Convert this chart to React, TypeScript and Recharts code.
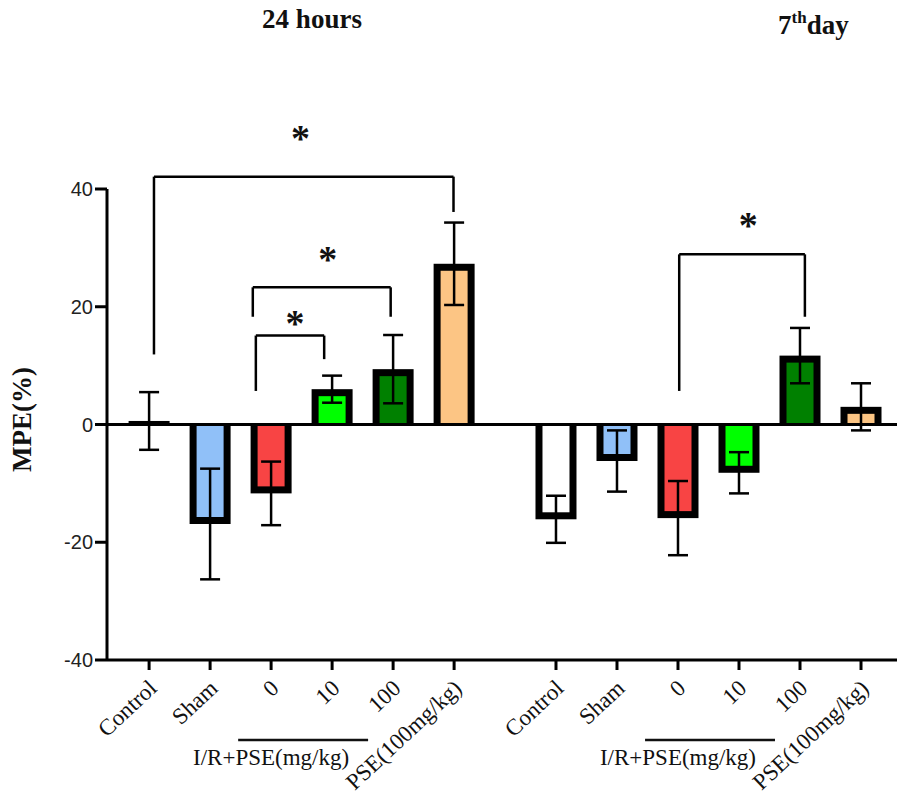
import React from 'react';
import { BarChart, Bar, XAxis, YAxis, ErrorBar, ReferenceLine, ReferenceDot } from 'recharts';

// groups / categories
const categories = ['Control', 'Sham', '0', '10', '100', 'PSE(100mg/kg)'];
const barColors = ['#ffffff', '#90c0f8', '#f84444', '#00ff00', '#008000', '#fcc584'];

// MPE(%) mean and error
const means24h = [0.6, -16.9, -11.7, 6.0, 9.4, 27.3];
const errors24h = [4.9, 9.4, 5.4, 2.3, 5.8, 7.0];
const means7d = [-16.1, -6.2, -15.9, -8.2, 11.7, 3.0];
const errors7d = [4.0, 5.2, 6.3, 3.5, 4.7, 4.0];

const yTicks = [-40, -20, 0, 20, 40];

// second group starts a little further right than the regular step
const GROUP2_START = 6.67;

// significance brackets: left x, right x, left foot, right foot, top (x in axis units)
const brackets = [
  { x1: 0.08, x2: 4.99, yl: 11.9, yr: 36.1, top: 42.1 },
  { x1: 1.7, x2: 3.96, yl: 18.3, yr: 18.3, top: 23.3 },
  { x1: 1.75, x2: 2.87, yl: 5.7, yr: 11.1, top: 15.1 },
  { x1: 8.69, x2: 10.75, yl: 5.7, yr: 18.3, top: 28.9 },
];
const stars = [
  { x: 2.48, y: 49.4 },
  { x: 2.93, y: 28.8 },
  { x: 2.39, y: 18.0 },
  { x: 9.82, y: 34.7 },
];

const data = [
  ...categories.map((c, i) => ({ x: i, label: c, mean: means24h[i], err: errors24h[i], color: barColors[i] })),
  ...categories.map((c, i) => ({ x: GROUP2_START + i, label: c, mean: means7d[i], err: errors7d[i], color: barColors[i] })),
];
const xTicks = data.map((d) => d.x);
const labelAt = (v: number) => data.find((d) => Math.abs(d.x - v) < 0.01)?.label ?? '';

const BORDER = 7;
const serif = "'Liberation Serif', 'Times New Roman', serif";

function FramedBar(props: any) {
  const { x, y, width, height, payload } = props;
  if (width == null || height == null) return null;
  const top = Math.min(y, y + height);
  const h = Math.max(Math.abs(height), 2);
  const up = payload.mean >= 0;
  const innerH = h - BORDER - 1;
  return (
    <g>
      <rect x={x} y={top} width={width} height={h} fill="#000" />
      {innerH > 0 && (
        <rect
          x={x + BORDER}
          y={up ? top + BORDER : top + 1}
          width={width - 2 * BORDER}
          height={innerH}
          fill={payload.color}
        />
      )}
    </g>
  );
}

function XTick(props: any) {
  const { x, y, payload } = props;
  return (
    <text
      transform={`translate(${x + 9},${y + 18}) rotate(-43)`}
      textAnchor="end"
      fontFamily={serif}
      fontSize={23}
      fill="#111"
    >
      {labelAt(payload.value)}
    </text>
  );
}

export default function App() {
  return (
    <div style={{ position: 'absolute', left: 0, top: 0, width: 897, height: 805, background: '#fff' }}>
      <svg width={897} height={805} style={{ position: 'absolute', left: 0, top: 0 }}>
        <text x={312} y={28} textAnchor="middle" fontFamily={serif} fontWeight="bold" fontSize={27} fill="#111">
          24 hours
        </text>
        <text x={778} y={34} fontFamily={serif} fontWeight="bold" fontSize={27} fill="#111">
          7<tspan dy={-11} fontSize={17}>th</tspan>
          <tspan dy={11}>day</tspan>
        </text>
      </svg>
      <div style={{ position: 'absolute', left: 0, top: 0 }}>
        <BarChart
          width={897}
          height={805}
          data={data}
          margin={{ top: 189, right: 0, bottom: 0, left: 0 }}
          barSize={41}
        >
          <XAxis
            type="number"
            dataKey="x"
            domain={[-0.69, 12.26]}
            ticks={xTicks}
            interval={0}
            allowDataOverflow
            axisLine={{ stroke: '#000', strokeWidth: 3 }}
            tickLine={{ stroke: '#000', strokeWidth: 3 }}
            tickSize={10}
            tick={<XTick />}
            height={145}
          />
          <YAxis
            type="number"
            domain={[-40, 40]}
            ticks={yTicks}
            interval={0}
            width={107}
            axisLine={{ stroke: '#000', strokeWidth: 3 }}
            tickLine={{ stroke: '#000', strokeWidth: 3 }}
            tickSize={12}
            tick={{ fill: '#222', fontSize: 20, fontFamily: 'Arial, Liberation Sans, sans-serif' }}
            label={{
              value: 'MPE(%)',
              angle: -90,
              position: 'insideLeft',
              dx: 16,
              dy: -5,
              style: { fontFamily: serif, fontWeight: 'bold', fontSize: 27, fill: '#111', textAnchor: 'middle' },
            }}
          />
          <Bar dataKey="mean" shape={<FramedBar />} isAnimationActive={false}>
            <ErrorBar dataKey="err" width={10} stroke="#000" strokeWidth={2.5} direction="y" />
          </Bar>
          <ReferenceLine y={0} stroke="#000" strokeWidth={3} />
          {brackets.map((b, i) => (
            <React.Fragment key={`b${i}`}>
              <ReferenceLine segment={[{ x: b.x1, y: b.yl }, { x: b.x1, y: b.top }]} stroke="#000" strokeWidth={2.5} ifOverflow="visible" />
              <ReferenceLine segment={[{ x: b.x1, y: b.top }, { x: b.x2, y: b.top }]} stroke="#000" strokeWidth={2.5} ifOverflow="visible" />
              <ReferenceLine segment={[{ x: b.x2, y: b.top }, { x: b.x2, y: b.yr }]} stroke="#000" strokeWidth={2.5} ifOverflow="visible" />
            </React.Fragment>
          ))}
          {stars.map((s, i) => (
            <ReferenceDot
              key={`s${i}`}
              x={s.x}
              y={s.y}
              r={0}
              ifOverflow="visible"
              label={{ value: '*', position: 'center', dy: 4, style: { fontFamily: serif, fontWeight: 'bold', fontSize: 38, fill: '#111' } }}
            />
          ))}
          {/* group underline + label */}
          {[0, GROUP2_START].map((g, i) => (
            <React.Fragment key={`g${i}`}>
              <ReferenceLine
                segment={[{ x: g + 1.46, y: -53.6 }, { x: g + 3.59, y: -53.6 }]}
                stroke="#111"
                strokeWidth={2.5}
                ifOverflow="visible"
              />
              <ReferenceDot
                x={g + 2.0}
                y={-56.5}
                r={0}
                ifOverflow="visible"
                label={{ value: 'I/R+PSE(mg/kg)', position: 'center', style: { fontFamily: serif, fontSize: 23, fill: '#111' } }}
              />
            </React.Fragment>
          ))}
        </BarChart>
      </div>
    </div>
  );
}
